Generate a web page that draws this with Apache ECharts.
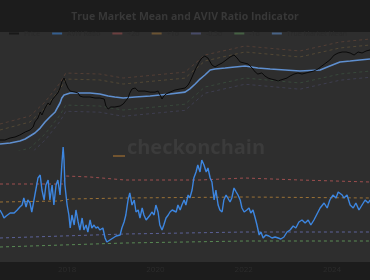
<!DOCTYPE html>
<html><head><meta charset="utf-8">
<script src="https://cdn.jsdelivr.net/npm/echarts@6/dist/echarts.min.js"></script>
<style>html,body{margin:0;padding:0;background:#1c1c1c}#c{width:370px;height:280px}</style>
</head><body><div id="c"></div>
<script>
// x values are decimal years
const yearTicks = [2018, 2020, 2022, 2024];

const priceData = [[2016.48,502],[2016.59,502],[2016.71,564],[2016.82,597],[2016.93,670],[2017.05,796],[2017.16,893],[2017.23,1060],[2017.27,1420],[2017.34,1780],[2017.39,2520],[2017.43,2120],[2017.50,3170],[2017.57,4230],[2017.61,3770],[2017.66,5020],[2017.73,6300],[2017.79,7500],[2017.84,10000],[2017.88,14200],[2017.93,17800],[2017.97,13400],[2018.02,10000],[2018.07,8400],[2018.11,7900],[2018.18,7900],[2018.25,7500],[2018.29,6300],[2018.36,5970],[2018.43,5970],[2018.47,5640],[2018.52,5970],[2018.63,5640],[2018.74,5640],[2018.84,5320],[2018.88,3560],[2018.93,2990],[2018.99,3360],[2019.08,3360],[2019.20,3560],[2019.27,3990],[2019.31,4230],[2019.38,5640],[2019.42,7500],[2019.47,9500],[2019.54,10000],[2019.61,8400],[2019.65,8900],[2019.76,8400],[2019.88,7900],[2019.99,7900],[2020.06,8400],[2020.10,8900],[2020.15,5320],[2020.19,6300],[2020.24,7100],[2020.33,7900],[2020.44,8900],[2020.56,9500],[2020.67,10000],[2020.74,11900],[2020.78,14200],[2020.85,21200],[2020.92,31700],[2020.99,44800],[2021.05,56300],[2021.12,63200],[2021.19,56300],[2021.24,44800],[2021.28,37700],[2021.35,33600],[2021.42,37700],[2021.51,42300],[2021.60,50200],[2021.69,59700],[2021.78,67000],[2021.85,56300],[2021.92,44800],[2022.01,42300],[2022.10,39900],[2022.19,31700],[2022.26,25200],[2022.32,22400],[2022.41,23800],[2022.48,20000],[2022.55,17800],[2022.62,16800],[2022.71,15900],[2022.78,15000],[2022.84,15900],[2022.91,16800],[2022.98,17800],[2023.05,20000],[2023.14,22400],[2023.23,23800],[2023.32,22400],[2023.41,23800],[2023.50,25200],[2023.59,26700],[2023.68,29900],[2023.77,35600],[2023.86,42300],[2023.95,50200],[2024.05,67000],[2024.14,75200],[2024.23,79600],[2024.32,79600],[2024.41,75200],[2024.50,67000],[2024.59,79600],[2024.68,75200],[2024.77,84300],[2024.86,89300]];

const tmmData = [[2016.48,399],[2016.71,423],[2016.93,474],[2017.05,532],[2017.16,633],[2017.27,752],[2017.39,1000],[2017.50,1420],[2017.61,1890],[2017.73,2520],[2017.79,3360],[2017.84,4230],[2017.88,5640],[2017.93,6700],[2017.97,7500],[2018.07,7500],[2018.29,7500],[2018.52,7500],[2018.74,7100],[2018.93,6300],[2019.08,5970],[2019.27,5640],[2019.54,5970],[2019.88,6300],[2020.33,7100],[2020.67,7900],[2020.78,9500],[2020.90,12600],[2021.01,16800],[2021.12,21200],[2021.24,28300],[2021.35,29900],[2021.58,31700],[2021.80,33600],[2022.03,35600],[2022.32,31700],[2022.60,29900],[2022.94,28300],[2023.27,26700],[2023.73,28300],[2023.95,35600],[2024.18,44800],[2024.41,47400],[2024.63,50200],[2024.86,53200]];

const bandDates = [2016.48,2017.16,2017.50,2017.84,2017.97,2018.74,2019.27,2020.67,2021.12,2022.03,2023.27,2024.18,2024.86];
const bandUpper2 = [1260,2000,4490,13400,23700,22400,17800,25000,67000,112500,84400,141600,168100];
const bandUpper1 = [894,1420,3180,9480,16800,15900,12600,17700,47500,79700,59800,100400,119200];
const bandLower1 = [200,317,710,2120,3750,3550,2820,3950,10600,17800,13400,22400,26600];
const bandLower2 = [140,222,497,1480,2630,2490,1970,2770,7420,12460,9350,15700,18600];

const avivData = [[2016.48,2.08],[2016.53,1.92],[2016.57,1.76],[2016.62,1.84],[2016.66,1.88],[2016.71,1.96],[2016.75,2.00],[2016.80,1.96],[2016.87,2.08],[2016.93,2.20],[2016.98,2.28],[2017.02,2.56],[2017.07,2.20],[2017.11,2.48],[2017.16,2.36],[2017.20,2.00],[2017.27,2.68],[2017.32,3.16],[2017.34,3.36],[2017.39,3.48],[2017.43,2.88],[2017.48,2.48],[2017.52,3.08],[2017.57,3.28],[2017.61,2.48],[2017.66,3.08],[2017.70,2.28],[2017.75,3.08],[2017.79,3.28],[2017.84,2.68],[2017.88,3.88],[2017.91,4.60],[2017.93,4.08],[2017.95,3.08],[2018.00,2.28],[2018.04,1.88],[2018.07,1.36],[2018.11,1.88],[2018.16,1.48],[2018.20,2.08],[2018.25,1.60],[2018.29,1.28],[2018.34,1.76],[2018.38,1.28],[2018.43,1.48],[2018.47,1.20],[2018.52,1.68],[2018.56,1.36],[2018.61,1.48],[2018.65,1.36],[2018.70,1.40],[2018.74,1.28],[2018.81,1.36],[2018.86,0.96],[2018.90,0.80],[2018.97,0.88],[2019.04,0.96],[2019.11,1.04],[2019.20,1.08],[2019.24,1.36],[2019.29,1.60],[2019.33,1.88],[2019.38,2.48],[2019.42,2.76],[2019.47,2.28],[2019.52,2.48],[2019.56,2.00],[2019.61,2.08],[2019.65,1.76],[2019.70,2.16],[2019.74,1.88],[2019.79,1.68],[2019.83,1.60],[2019.88,1.88],[2019.92,2.00],[2019.97,1.88],[2020.01,2.28],[2020.06,2.00],[2020.10,1.48],[2020.15,1.28],[2020.19,1.48],[2020.24,1.76],[2020.29,1.88],[2020.33,2.00],[2020.38,2.08],[2020.42,2.16],[2020.47,2.00],[2020.51,2.28],[2020.56,2.08],[2020.60,2.28],[2020.65,2.48],[2020.69,2.28],[2020.74,2.68],[2020.78,2.56],[2020.83,2.88],[2020.87,3.36],[2020.92,3.60],[2020.96,3.88],[2021.01,3.60],[2021.05,4.08],[2021.10,3.88],[2021.15,3.60],[2021.19,3.76],[2021.24,3.36],[2021.28,3.20],[2021.33,2.48],[2021.37,2.88],[2021.42,2.28],[2021.46,2.08],[2021.51,2.00],[2021.55,2.48],[2021.60,2.68],[2021.64,2.56],[2021.69,2.40],[2021.73,2.56],[2021.78,2.96],[2021.83,2.80],[2021.87,2.68],[2021.92,2.48],[2021.96,2.16],[2022.01,2.00],[2022.07,2.08],[2022.12,2.16],[2022.16,1.96],[2022.21,2.08],[2022.26,1.76],[2022.30,1.48],[2022.35,1.08],[2022.39,1.20],[2022.44,0.96],[2022.50,1.08],[2022.57,1.04],[2022.64,0.96],[2022.71,1.00],[2022.78,0.96],[2022.84,0.92],[2022.91,1.00],[2022.98,1.20],[2023.05,1.28],[2023.12,1.44],[2023.18,1.36],[2023.25,1.60],[2023.32,1.68],[2023.39,1.56],[2023.46,1.68],[2023.52,1.48],[2023.59,1.68],[2023.66,1.92],[2023.73,2.16],[2023.77,2.08],[2023.82,2.36],[2023.89,2.16],[2023.95,2.48],[2024.02,2.68],[2024.09,2.56],[2024.14,2.80],[2024.18,2.88],[2024.23,2.68],[2024.27,2.56],[2024.34,2.68],[2024.41,2.28],[2024.48,2.16],[2024.54,2.36],[2024.61,2.08],[2024.68,2.28],[2024.75,2.48],[2024.82,2.36],[2024.86,2.48]];

const avivPlus2 = [[2016.48,3.12],[2017.91,3.12],[2017.97,3.44],[2018.52,3.40],[2019.31,3.28],[2021.01,3.28],[2022.03,3.36],[2023.27,3.28],[2024.86,3.20]];
const avivPlus1 = [[2016.48,2.40],[2017.84,2.44],[2018.07,2.52],[2019.31,2.56],[2022.03,2.60],[2024.86,2.56]];
const avivMinusHalf = [[2016.48,0.96],[2019.31,1.12],[2022.03,1.20],[2024.86,1.20]];
const avivMinus1 = [[2016.48,0.60],[2019.31,0.76],[2022.03,0.84],[2024.86,0.84]];

const zip = (xs, ys) => xs.map((x, i) => [x, ys[i]]);
const X0 = 2016.48, X1 = 2024.86;

function dashed(name, data, color, gi, w, op) {
  return {name, type:'line', data, xAxisIndex:gi, yAxisIndex:gi, symbol:'none', silent:true,
    lineStyle:{color, width:w||1, type:[3,3], opacity:op==null?1:op}, itemStyle:{color}, z:2};
}

const chart = echarts.init(document.getElementById('c'), null, {renderer:'canvas'});
chart.setOption({
  backgroundColor:'#1c1c1c',
  animation:false,
  title:{text:'True Market Mean and AVIV Ratio Indicator', left:'center', top:7,
    textStyle:{color:'#383838', fontSize:10.5, fontWeight:'bold', fontFamily:'Open Sans'}},
  legend:{top:25, left:4, icon:'rect', itemWidth:10, itemHeight:2, itemGap:12,
    itemStyle:{opacity:0.55},
    textStyle:{color:'#2a2a2a', fontSize:7, fontFamily:'Open Sans'},
    data:['Price','AVIV Ratio','+2σ','+1σ','-0.5σ','-1σ','True Market Mean']},
  graphic:[
    {type:'rect', shape:{x:0,y:32,width:370,height:230}, style:{fill:'#2e2e2e'}, z:-10, silent:true},
    {type:'text', x:196, y:148, z:1, silent:true,
      style:{text:'checkonchain', fill:'#3b3b3b', fontSize:20, fontWeight:'bold', fontFamily:'Open Sans', align:'center', verticalAlign:'middle'}},
    {type:'line', shape:{x1:113,y1:156,x2:125,y2:156}, style:{stroke:'#8a6230', lineWidth:1.5}, z:1, silent:true}
  ],
  grid:[{left:0,right:0,top:32,height:118},{left:0,right:0,top:140,height:122}],
  xAxis:[
    {type:'value', gridIndex:0, min:X0, max:X1, show:false},
    {type:'value', gridIndex:1, min:X0, max:X1, axisLine:{show:false}, axisTick:{show:false}, splitLine:{show:false},
      axisLabel:{customValues:yearTicks, formatter:v=>String(v), color:'#2c2c2c', fontSize:8, margin:4, fontFamily:'Open Sans'}}
  ],
  yAxis:[
    {type:'log', gridIndex:0, min:282.6, max:251800, show:false},
    {type:'value', gridIndex:1, min:0, max:4.88, show:false}
  ],
  series:[
    dashed('top+2', zip(bandDates, bandUpper2), '#6a4a3a', 0, 1, 0.6),
    dashed('top+1', zip(bandDates, bandUpper1), '#6a5a3a', 0, 1, 0.6),
    dashed('top-1', zip(bandDates, bandLower1), '#3f5a45', 0, 1, 0.6),
    dashed('top-2', zip(bandDates, bandLower2), '#4a4a66', 0, 1, 0.6),
    {name:'True Market Mean', type:'line', data:tmmData, xAxisIndex:0, yAxisIndex:0, symbol:'none',
      lineStyle:{color:'#5f8fcf', width:1.6}, itemStyle:{color:'#5f8fcf'}, z:3},
    {name:'Price', type:'line', data:priceData, xAxisIndex:0, yAxisIndex:0, symbol:'none',
      lineStyle:{color:'#0a0a0a', width:1}, itemStyle:{color:'#0a0a0a'}, z:4},
    dashed('+2σ', avivPlus2, '#9e4f4f', 1, 1),
    dashed('+1σ', avivPlus1, '#9c7236', 1, 1),
    dashed('-0.5σ', avivMinusHalf, '#5c6298', 1, 1),
    dashed('-1σ', avivMinus1, '#5a8a55', 1, 1),
    {name:'AVIV Ratio', type:'line', data:avivData, xAxisIndex:1, yAxisIndex:1, symbol:'none',
      lineStyle:{color:'#3d86e0', width:1.4}, itemStyle:{color:'#3d86e0'}, z:5}
  ]
});
</script></body></html>
